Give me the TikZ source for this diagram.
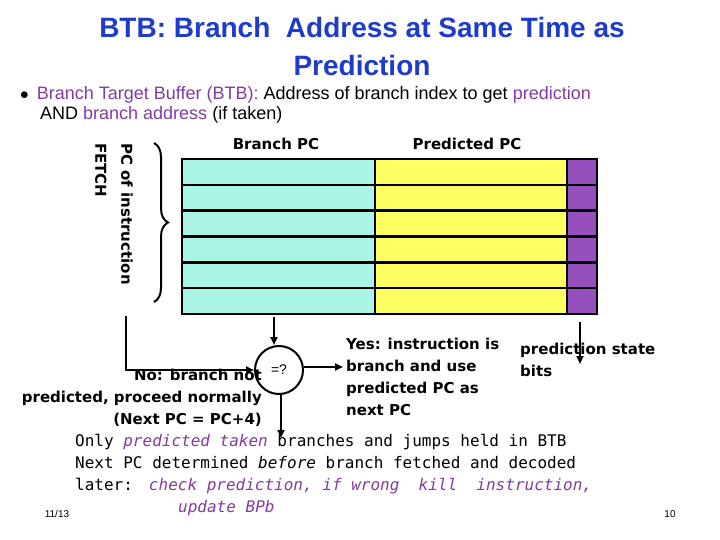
\documentclass[tikz,border=0pt]{standalone}
\usepackage{fontspec}
\setmainfont{Liberation Sans}
\newfontfamily\comic{DejaVu Sans}
\newfontfamily\monof{DejaVu Sans Mono}
\usetikzlibrary{decorations.pathreplacing,arrows.meta}
\definecolor{ttl}{RGB}{30,60,200}
\definecolor{pur}{RGB}{130,60,160}
\definecolor{cy}{RGB}{170,245,230}
\definecolor{ye}{RGB}{255,255,100}
\definecolor{vi}{RGB}{150,80,190}
\begin{document}
\begin{tikzpicture}[x=1pt,y=-1pt,
  lbl/.style={font=\comic\bfseries\fontsize{15}{22}\selectfont,inner sep=0,align=left},
  arr/.style={line width=2pt,-{Triangle[length=8pt,width=7pt]}},
  mono/.style={font=\monof\fontsize{16}{21.7}\selectfont,inner sep=0,anchor=west,align=left}]
\useasboundingbox[fill=white] (0,0) rectangle (720,540);
\node[font=\fontsize{28}{38}\selectfont\bfseries,text=ttl,align=center] (title) at (362,46) {BTB: Branch~ Address at Same Time as\\Prediction};
\node[font=\fontsize{18}{20}\selectfont,anchor=north west,align=left,inner sep=0] (bul) at (20,86) {$\bullet$\hspace{8pt}\textcolor{pur}{Branch Target Buffer (BTB):} Address of branch index to get \textcolor{pur}{prediction}\\\hspace{20pt}AND \textcolor{pur}{branch address} (if taken)};
% table
\foreach \i in {0,...,5}{
 \fill[cy] (182,159+\i*25.83) rectangle (375,184.83+\i*25.83);
 \fill[ye] (375,159+\i*25.83) rectangle (567,184.83+\i*25.83);
 \fill[vi] (567,159+\i*25.83) rectangle (597,184.83+\i*25.83);
}
\foreach \i in {1,...,5} \draw[line width=2.4pt] (182,159+\i*25.83) -- (597,159+\i*25.83);
\draw[line width=2.4pt] (375,159) -- (375,314) (567,159) -- (567,314);
\draw[line width=2.6pt] (182,159) rectangle (597,314);
\node[lbl] (bpc) at (276,144) {Branch PC};
\node[lbl] (ppc) at (467,144) {Predicted PC};
\draw[line width=2pt,decorate,decoration={brace,amplitude=14pt}] (154,143) -- (154,302);
\node[lbl,rotate=-90,align=left,font=\comic\bfseries\fontsize{15}{26}\selectfont] (fetch) at (114,214) {PC of instruction\\FETCH};
% compare
\node[draw,circle,line width=2pt,minimum size=48pt,inner sep=0,font=\fontsize{14}{14}\selectfont\rmfamily] (cmp) at (279,370) {=?};
\coordinate (tb) at (274,317);
\draw[arr] (tb) -- (tb|-cmp.north);
\coordinate (fs) at (126,316);
\draw[arr] (fs) |- (cmp.west);
\coordinate (ye) at (343,367);
\draw[arr] (cmp.east|-ye) -- (ye);
\coordinate (dn) at (281,438);
\draw[arr] (cmp.south-|dn) -- (dn);
\coordinate (pt) at (580,322); \coordinate (pe) at (580,364);
\draw[arr] (pt) -- (pe);
\node[lbl,anchor=north west] (yes) at (346,338) {Yes: instruction is\\branch and use\\predicted PC as\\next PC};
\node[lbl,anchor=north west] (pst) at (520,343) {prediction state\\bits};
\node[lbl,align=right,anchor=north east] (no) at (262,369) {No: branch not\\predicted, proceed normally\\(Next PC = PC+4)};
\node[mono] (m) at (75,475) {Only \textcolor{pur}{\itshape predicted taken} branches and jumps held in BTB\\Next PC determined \textit{before} branch fetched and decoded\\later:\hspace{16pt}\textcolor{pur}{\itshape check prediction, if wrong~ kill~ instruction,}\\\hspace{103pt}\textcolor{pur}{\itshape update BPb}};
\node[font=\fontsize{10}{10}\selectfont] (d) at (57,514) {11/13};
\node[font=\fontsize{10}{10}\selectfont] (p) at (670,514) {10};
\end{tikzpicture}
\end{document}
